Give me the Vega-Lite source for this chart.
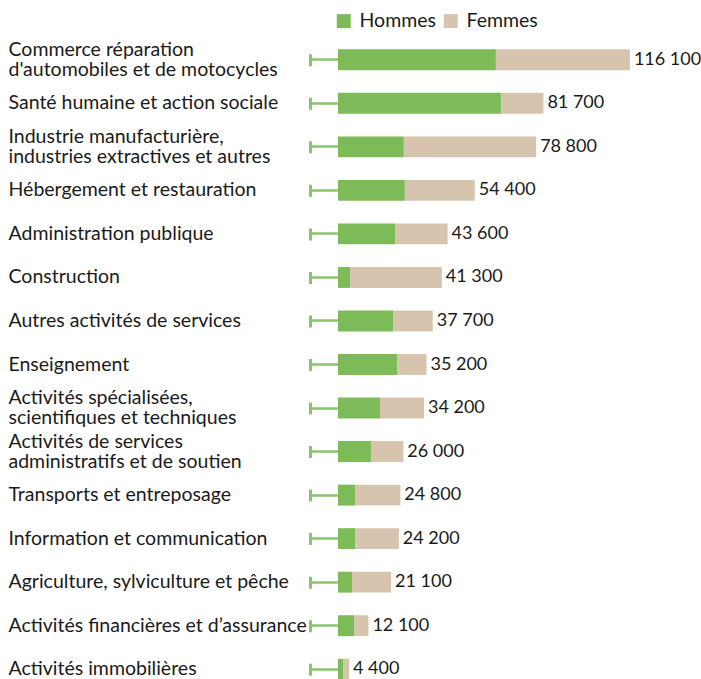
{
  "$schema": "https://vega.github.io/schema/vega-lite/v6.json",
  "width": 352,
  "height": 653,
  "autosize": {"type": "none"},
  "padding": {"left": 338, "top": 38, "right": 11, "bottom": 0},
  "config": {
    "view": {"stroke": null},
    "font": "Lato"
  },
  "data": {
    "values": [
      {"secteur": "Commerce réparation|d'automobiles et de motocycles", "sexe": "Hommes", "valeur": 62800},
      {"secteur": "Commerce réparation|d'automobiles et de motocycles", "sexe": "Femmes", "valeur": 53300},
      {"secteur": "Santé humaine et action sociale", "sexe": "Hommes", "valeur": 64800},
      {"secteur": "Santé humaine et action sociale", "sexe": "Femmes", "valeur": 16900},
      {"secteur": "Industrie manufacturière,|industries extractives et autres", "sexe": "Hommes", "valeur": 26200},
      {"secteur": "Industrie manufacturière,|industries extractives et autres", "sexe": "Femmes", "valeur": 52600},
      {"secteur": "Hébergement et restauration", "sexe": "Hommes", "valeur": 26600},
      {"secteur": "Hébergement et restauration", "sexe": "Femmes", "valeur": 27800},
      {"secteur": "Administration publique", "sexe": "Hommes", "valeur": 22700},
      {"secteur": "Administration publique", "sexe": "Femmes", "valeur": 20900},
      {"secteur": "Construction", "sexe": "Hommes", "valeur": 4800},
      {"secteur": "Construction", "sexe": "Femmes", "valeur": 36500},
      {"secteur": "Autres activités de services", "sexe": "Hommes", "valeur": 21900},
      {"secteur": "Autres activités de services", "sexe": "Femmes", "valeur": 15800},
      {"secteur": "Enseignement", "sexe": "Hommes", "valeur": 23500},
      {"secteur": "Enseignement", "sexe": "Femmes", "valeur": 11700},
      {"secteur": "Activités spécialisées,|scientifiques et techniques", "sexe": "Hommes", "valeur": 16700},
      {"secteur": "Activités spécialisées,|scientifiques et techniques", "sexe": "Femmes", "valeur": 17500},
      {"secteur": "Activités de services|administratifs et de soutien", "sexe": "Hommes", "valeur": 13100},
      {"secteur": "Activités de services|administratifs et de soutien", "sexe": "Femmes", "valeur": 12900},
      {"secteur": "Transports et entreposage", "sexe": "Hommes", "valeur": 6800},
      {"secteur": "Transports et entreposage", "sexe": "Femmes", "valeur": 18000},
      {"secteur": "Information et communication", "sexe": "Hommes", "valeur": 6800},
      {"secteur": "Information et communication", "sexe": "Femmes", "valeur": 17400},
      {"secteur": "Agriculture, sylviculture et pêche", "sexe": "Hommes", "valeur": 5600},
      {"secteur": "Agriculture, sylviculture et pêche", "sexe": "Femmes", "valeur": 15500},
      {"secteur": "Activités financières et d’assurance", "sexe": "Hommes", "valeur": 6400},
      {"secteur": "Activités financières et d’assurance", "sexe": "Femmes", "valeur": 5700},
      {"secteur": "Activités immobilières", "sexe": "Hommes", "valeur": 2000},
      {"secteur": "Activités immobilières", "sexe": "Femmes", "valeur": 2400}
    ]
  },
  "encoding": {
    "y": {
      "field": "secteur",
      "type": "nominal",
      "sort": null,
      "scale": {"paddingInner": 0.52, "paddingOuter": 0.26},
      "axis": {
        "title": null,
        "offset": 28,
        "domain": true,
        "domainColor": "#88c46a",
        "domainWidth": 3,
        "domainDash": [12, 31.53],
        "domainDashOffset": 27.76,
        "ticks": true,
        "tickSize": -28,
        "tickWidth": 2.5,
        "tickColor": "#88c46a",
        "labelAlign": "left",
        "labelBaseline": "middle",
        "labelPadding": 330,
        "labelLimit": 0,
        "labelFontSize": 19.5,
        "labelColor": "#1a1a1a",
        "labelLineHeight": 20,
        "labelOffset": {"condition": {"test": "indexof(datum.value, '|') >= 0", "value": -10}, "value": 0},
        "labelExpr": "split(datum.label, '|')"
      }
    }
  },
  "layer": [
    {
      "mark": {"type": "bar"},
      "encoding": {
        "x": {
          "field": "valeur",
          "type": "quantitative",
          "stack": "zero",
          "scale": {"domain": [0, 140000], "nice": false},
          "axis": null
        },
        "color": {
          "field": "sexe",
          "type": "nominal",
          "scale": {"domain": ["Hommes", "Femmes"], "range": ["#7cbb58", "#d7c4ae"]},
          "legend": {
            "title": null,
            "orient": "none",
            "direction": "horizontal",
            "legendX": -4,
            "legendY": -27,
            "symbolType": "square",
            "symbolSize": 196,
            "symbolStrokeWidth": 0,
            "symbolOpacity": 1,
            "labelFontSize": 19.5,
            "labelColor": "#1a1a1a",
            "labelOffset": 6,
            "columnPadding": 5
          }
        },
        "order": {"field": "sexe", "type": "nominal", "sort": "descending"}
      }
    },
    {
      "transform": [
        {"aggregate": [{"op": "sum", "field": "valeur", "as": "total"}], "groupby": ["secteur"]},
        {"calculate": "replace(format(datum.total, ',d'), ',', ' ')", "as": "etiquette"}
      ],
      "mark": {"type": "text", "align": "left", "baseline": "middle", "dx": 4, "fontSize": 18, "color": "#1a1a1a"},
      "encoding": {
        "x": {"field": "total", "type": "quantitative"},
        "text": {"field": "etiquette", "type": "nominal"}
      }
    }
  ]
}
